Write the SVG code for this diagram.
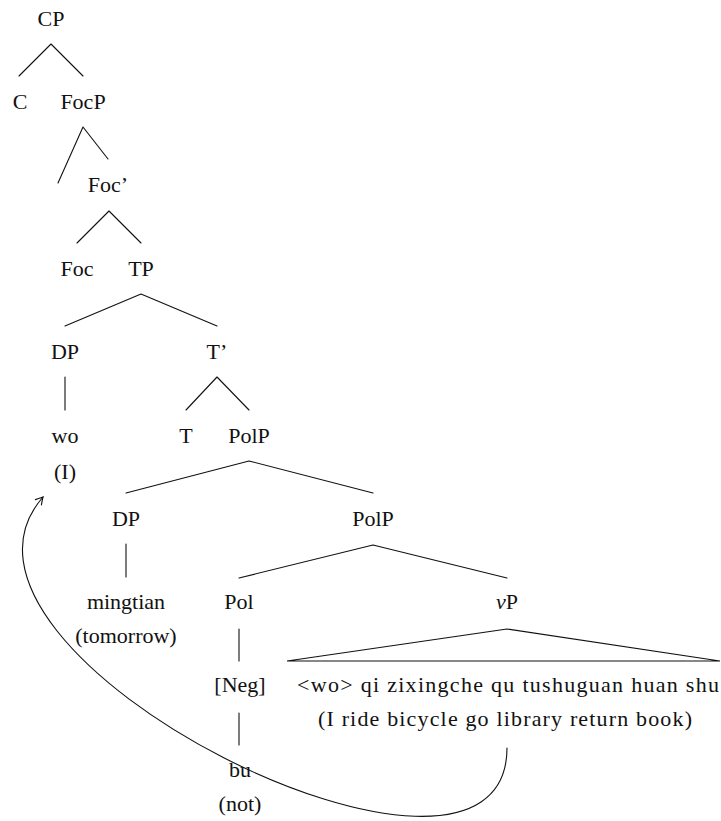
<svg xmlns="http://www.w3.org/2000/svg" width="721" height="821" viewBox="0 0 721 821">
  <style>
    text { font-family: "Liberation Serif", "Times New Roman", serif; font-size: 22px; fill: #111; text-anchor: middle; }
    .edge { stroke: #111; stroke-width: 1.1; fill: none; stroke-linecap: round; stroke-linejoin: miter; }
    .it { font-style: italic; }
  </style>
  <defs>
    <marker id="tip" viewBox="-8 -5 10 10" markerWidth="10" markerHeight="10" refX="0" refY="0" orient="auto" markerUnits="userSpaceOnUse">
      <path d="M -7 -4 Q -2 -1 0 0 Q -2 1 -7 4" fill="none" stroke="#111" stroke-width="1.1" stroke-linecap="round"/>
    </marker>
  </defs>
  <rect width="721" height="821" fill="#fff"/>

  <!-- tree branches -->
  <g id="connectors">
    <path class="edge" d="M51 44 L19 76 M51 44 L83 76"/>
    <path class="edge" d="M83 127 L58 183 M83 127 L108 159"/>
    <path class="edge" d="M109 211 L77 243 M109 211 L141 243"/>
    <path class="edge" d="M141 294 L65 326 M141 294 L217 326"/>
    <path class="edge" d="M65 377 L65 410"/>
    <path class="edge" d="M217 377 L186 410 M217 377 L249 410"/>
    <path class="edge" d="M249 461 L126 493 M249 461 L373 493"/>
    <path class="edge" d="M126 544 L126 577"/>
    <path class="edge" d="M373 545 L239 578 M373 545 L507 578"/>
    <path class="edge" d="M239 629 L239 661"/>
    <path class="edge" d="M507 629 L287 661 L720 661 Z"/>
    <path class="edge" d="M239 713 L239 745"/>
    <!-- movement arrow from the vP subject back up to wo -->
    <path class="edge" d="M507 748 C 507 950, -95 655, 43 497" marker-end="url(#tip)"/>
  </g>

  <g id="cp"><text x="51" y="26">CP</text></g>
  <g id="c"><text x="20" y="109">C</text></g>
  <g id="focp"><text x="83" y="109">FocP</text></g>
  <g id="focbar"><text x="108" y="192">Foc’</text></g>
  <g id="foc"><text x="77" y="276">Foc</text></g>
  <g id="tp"><text x="141" y="276">TP</text></g>
  <g id="dp-subj"><text x="65" y="359">DP</text></g>
  <g id="tbar"><text x="217" y="359">T’</text></g>
  <g id="wo"><text x="65" y="443">wo</text><text x="65" y="479">(I)</text></g>
  <g id="t"><text x="186" y="443">T</text></g>
  <g id="polp"><text x="249" y="443">PolP</text></g>
  <g id="dp-adv"><text x="126" y="526">DP</text></g>
  <g id="polp2"><text x="373" y="526">PolP</text></g>
  <g id="mingtian"><text x="126" y="609">mingtian</text><text x="126" y="643">(tomorrow)</text></g>
  <g id="pol"><text x="239" y="609">Pol</text></g>
  <g id="vp"><text x="507" y="609"><tspan class="it">v</tspan>P</text></g>
  <g id="neg"><text x="240" y="692">[Neg]</text></g>
  <g id="vp-content">
    <text x="508" y="692" textLength="422" lengthAdjust="spacing">&lt;wo&gt; qi zixingche qu tushuguan huan shu</text>
    <text x="505" y="726" textLength="374" lengthAdjust="spacing">(I ride bicycle go library return book)</text>
  </g>
  <g id="bu"><text x="240" y="777">bu</text><text x="240" y="811">(not)</text></g>
</svg>
